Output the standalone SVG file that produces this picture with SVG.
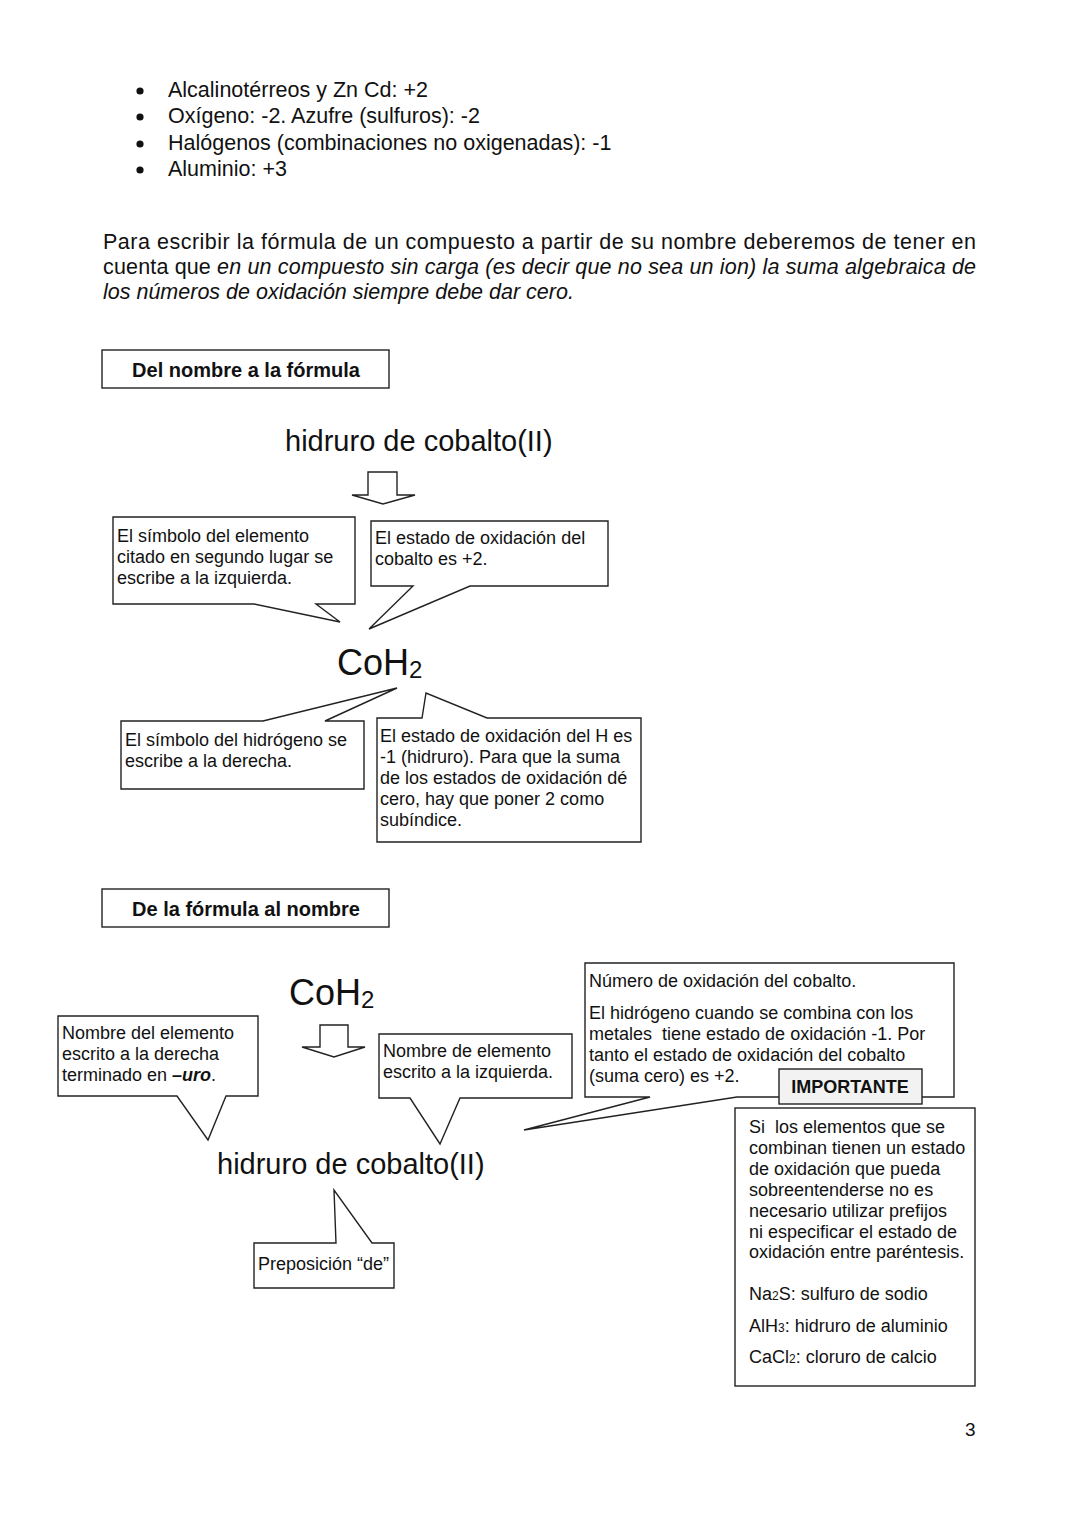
<svg xmlns="http://www.w3.org/2000/svg" width="1080" height="1527" viewBox="0 0 1080 1527">
<style>
text{font-family:"Liberation Sans",Arial,sans-serif;fill:#111}
.b{font-size:21.5px}
.c{font-size:18px}
.h{font-size:20px;font-weight:bold}
.big{font-size:29px}
.f{font-size:36px}
.shape{fill:#fff;stroke:#222;stroke-width:1.4}
.arrow{fill:#fff;stroke:#222;stroke-width:1.4}
</style>
<rect width="1080" height="1527" fill="#fff"/>
<g id="bullets">
<circle cx="140" cy="91" r="3.6" fill="#111"/>
<circle cx="140" cy="117" r="3.6" fill="#111"/>
<circle cx="140" cy="144" r="3.6" fill="#111"/>
<circle cx="140" cy="170" r="3.6" fill="#111"/>
<text class="b" x="168" y="97">Alcalinotérreos y Zn Cd: +2</text>
<text class="b" x="168" y="123">Oxígeno: -2. Azufre (sulfuros): -2</text>
<text class="b" x="168" y="150">Halógenos (combinaciones no oxigenadas): -1</text>
<text class="b" x="168" y="176">Aluminio: +3</text>
</g>
<g id="paragraph">
<text class="b" x="103" y="249" textLength="873" lengthAdjust="spacing">Para escribir la fórmula de un compuesto a partir de su nombre deberemos de tener en</text>
<text class="b" x="103" y="274" textLength="873" lengthAdjust="spacing">cuenta que <tspan font-style="italic">en un compuesto sin carga (es decir que no sea un ion) la suma algebraica de</tspan></text>
<text class="b" x="103" y="299" font-style="italic">los números de oxidación siempre debe dar cero.</text>
</g>
<g id="title1">
<rect class="shape" x="102" y="350" width="287" height="38"/>
<text class="h" x="246" y="377" text-anchor="middle">Del nombre a la fórmula</text>
</g>
<g id="name1"><text class="big" x="285" y="451">hidruro de cobalto(II)</text></g>
<g id="arrow1"><path class="arrow" d="M368,472 H397 V495 H415 L383,504 L352,495 H368 Z"/></g>
<g id="callout1">
<path class="shape" d="M113,517 H355 V604 H316 L340,622 L254,604 H113 Z"/>
<text class="c" x="117" y="542">El símbolo del elemento</text>
<text class="c" x="117" y="563">citado en segundo lugar se</text>
<text class="c" x="117" y="584">escribe a la izquierda.</text>
</g>
<g id="callout2">
<path class="shape" d="M371,521 H608 V586 H470 L369,629 L413,586 H371 Z"/>
<text class="c" x="375" y="544">El estado de oxidación del</text>
<text class="c" x="375" y="565">cobalto es +2.</text>
</g>
<g id="formula1"><text class="f" x="337" y="675">CoH<tspan font-size="24" dy="3">2</tspan></text></g>
<g id="callout3">
<path class="shape" d="M121,721 H263 L397,688 L325,721 H364 V789 H121 Z"/>
<text class="c" x="125" y="746">El símbolo del hidrógeno se</text>
<text class="c" x="125" y="767">escribe a la derecha.</text>
</g>
<g id="callout4">
<path class="shape" d="M377,718 H422 L426,693 L487,718 H641 V842 H377 Z"/>
<text class="c" x="380" y="742">El estado de oxidación del H es</text>
<text class="c" x="380" y="763">-1 (hidruro). Para que la suma</text>
<text class="c" x="380" y="784">de los estados de oxidación dé</text>
<text class="c" x="380" y="805">cero, hay que poner 2 como</text>
<text class="c" x="380" y="826">subíndice.</text>
</g>
<g id="title2">
<rect class="shape" x="102" y="889" width="287" height="38"/>
<text class="h" x="246" y="916" text-anchor="middle">De la fórmula al nombre</text>
</g>
<g id="formula2"><text class="f" x="289" y="1005">CoH<tspan font-size="24" dy="3">2</tspan></text></g>
<g id="arrow2"><path class="arrow" d="M320,1025 H348 V1047 H365 L334,1057 L302,1047 H320 Z"/></g>
<g id="callout5">
<path class="shape" d="M58,1016 H258 V1096 H226 L208,1140 L177,1096 H58 Z"/>
<text class="c" x="62" y="1039">Nombre del elemento</text>
<text class="c" x="62" y="1060">escrito a la derecha</text>
<text class="c" x="62" y="1081">terminado en <tspan font-weight="bold" font-style="italic">–uro</tspan>.</text>
</g>
<g id="callout6">
<path class="shape" d="M379,1034 H572 V1098 H460 L440,1144 L410,1098 H379 Z"/>
<text class="c" x="383" y="1057">Nombre de elemento</text>
<text class="c" x="383" y="1078">escrito a la izquierda.</text>
</g>
<g id="callout7">
<path class="shape" d="M585,963 H954 V1097 H737 L524,1130 L650,1097 H585 Z"/>
<text class="c" x="589" y="987">Número de oxidación del cobalto.</text>
<text class="c" x="589" y="1019">El hidrógeno cuando se combina con los</text>
<text class="c" x="589" y="1040" xml:space="preserve">metales  tiene estado de oxidación -1. Por</text>
<text class="c" x="589" y="1061">tanto el estado de oxidación del cobalto</text>
<text class="c" x="589" y="1082">(suma cero) es +2.</text>
</g>
<g id="important">
<rect x="779" y="1069" width="143" height="35" fill="#f2f2f2" stroke="#222" stroke-width="1.4"/>
<text x="850" y="1093" text-anchor="middle" style="font-size:18px;font-weight:bold">IMPORTANTE</text>
</g>
<g id="note">
<rect class="shape" x="735" y="1108" width="240" height="278"/>
<text class="c" x="749" y="1133" xml:space="preserve">Si  los elementos que se</text>
<text class="c" x="749" y="1154">combinan tienen un estado</text>
<text class="c" x="749" y="1175">de oxidación que pueda</text>
<text class="c" x="749" y="1196">sobreentenderse no es</text>
<text class="c" x="749" y="1217">necesario utilizar prefijos</text>
<text class="c" x="749" y="1238">ni especificar el estado de</text>
<text class="c" x="749" y="1258">oxidación entre paréntesis.</text>
<text class="c" x="749" y="1300">Na<tspan font-size="12">2</tspan>S: sulfuro de sodio</text>
<text class="c" x="749" y="1332">AlH<tspan font-size="12">3</tspan>: hidruro de aluminio</text>
<text class="c" x="749" y="1363">CaCl<tspan font-size="12">2</tspan>: cloruro de calcio</text>
</g>
<g id="name2"><text class="big" x="217" y="1174">hidruro de cobalto(II)</text></g>
<g id="callout9">
<path class="shape" d="M254,1243 H336 L334,1190 L372,1243 H394 V1288 H254 Z"/>
<text class="c" x="258" y="1270">Preposición “de”</text>
</g>
<g id="page"><text x="965" y="1436" style="font-size:19px">3</text></g>
</svg>
